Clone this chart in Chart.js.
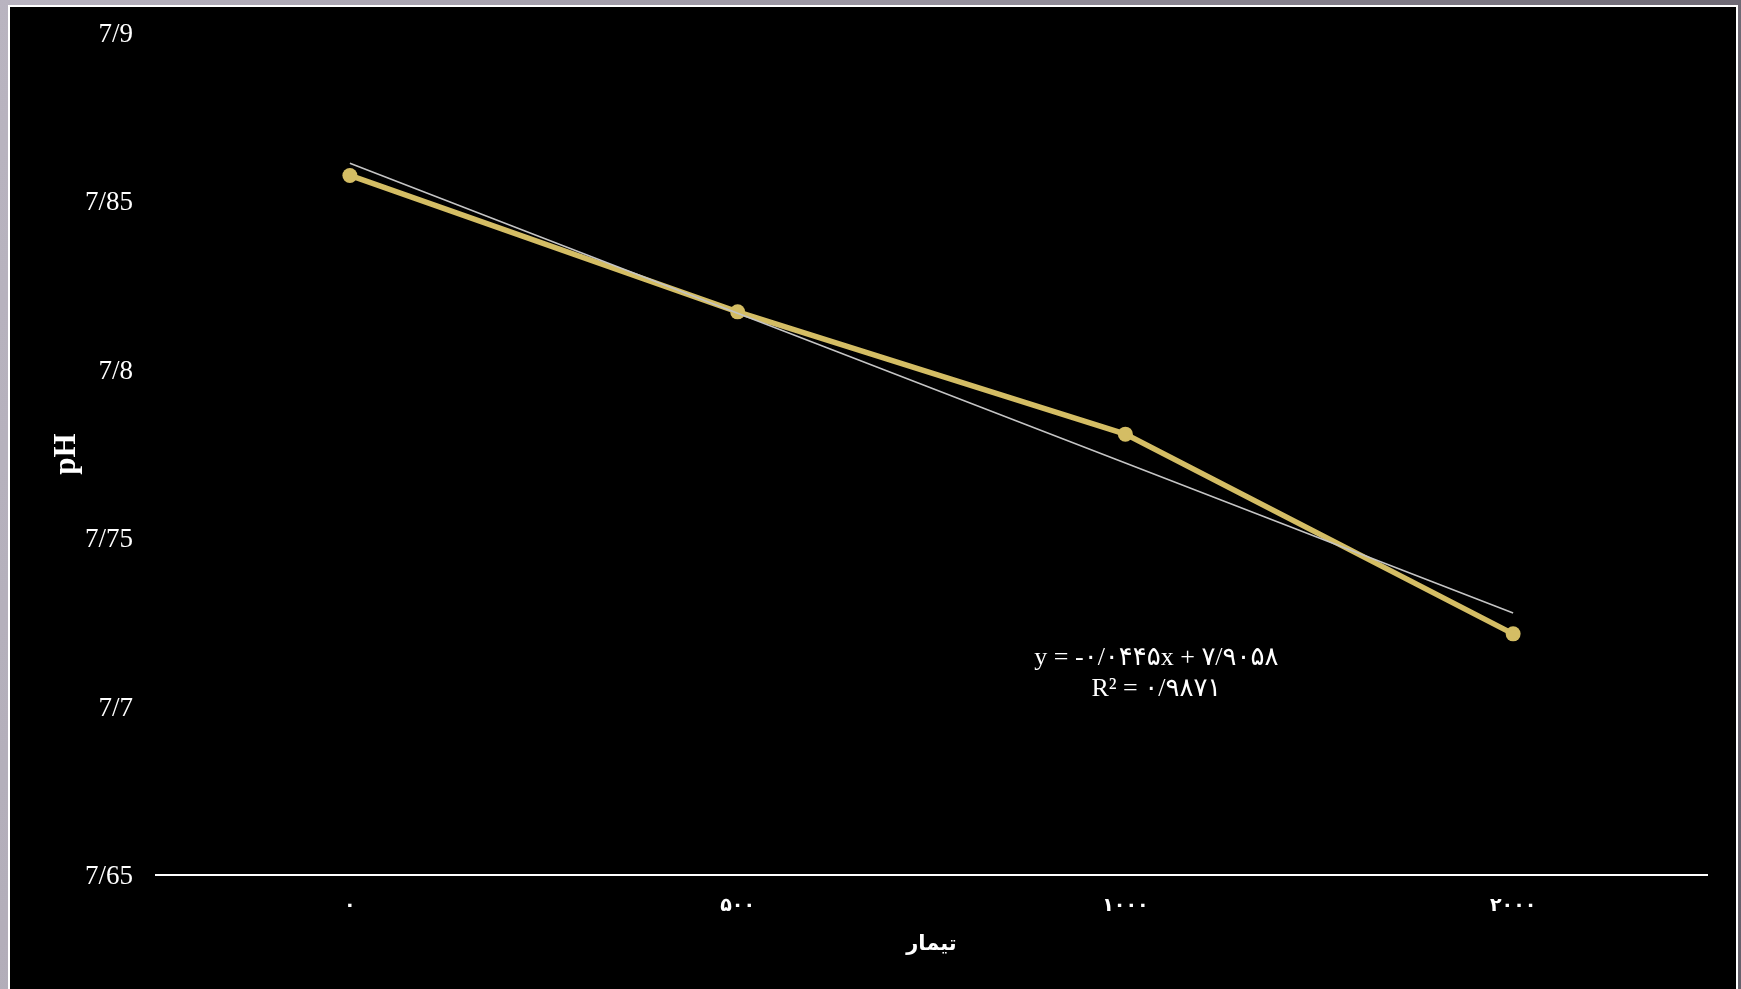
<!DOCTYPE html>
<html lang="fa">
<head>
<meta charset="utf-8">
<title>pH</title>
<script src="https://cdn.jsdelivr.net/npm/chart.js@4.4.1/dist/chart.umd.min.js"></script>
<style>
  html, body { margin: 0; padding: 0; width: 1741px; height: 989px; overflow: hidden; }
  body { background: linear-gradient(100deg, #b9b4c0 0%, #9a95a1 45%, #66616c 100%); position: relative; }
  #frame {
    position: absolute; left: 8px; top: 5px; width: 1726px; height: 1000px;
    background: #000; border: 2px solid #fff; border-bottom: none;
  }
  #chart { position: absolute; left: 0; top: 0; }
</style>
</head>
<body>
<div id="frame"></div>
<canvas id="chart" width="1741" height="989"></canvas>
<script>
// Treatment levels (x categories) and measured pH
const categories = ['۰', '۵۰۰', '۱۰۰۰', '۲۰۰۰'];
const phValues = [7.8577, 7.8172, 7.7809, 7.7216];

// Linear trendline as stated in the equation label
const trendSlope = -0.0445;
const trendIntercept = 7.9058;
const equationLines = ['y = -۰/۰۴۴۵x + ۷/۹۰۵۸', 'R² = ۰/۹۸۷۱'];

// Y axis tick labels (slash used as decimal separator)
const yTickValues = [7.65, 7.7, 7.75, 7.8, 7.85, 7.9];
const yTickLabels = ['7/65', '7/7', '7/75', '7/8', '7/85', '7/9'];

const xTitle = 'تیمار';
const yTitle = 'pH';

const trendValues = categories.map((_, i) => trendSlope * (i + 1) + trendIntercept);

const equationPlugin = {
  id: 'equationLabel',
  afterDatasetsDraw(chart) {
    const { ctx, chartArea } = chart;
    const cx = chartArea.left + (chartArea.right - chartArea.left) * 0.645;
    const y0 = chartArea.top + (chartArea.bottom - chartArea.top) * 0.7425;
    ctx.save();
    ctx.fillStyle = '#ffffff';
    ctx.font = "26px 'Liberation Serif', 'DejaVu Sans', serif";
    ctx.textAlign = 'center';
    ctx.textBaseline = 'middle';
    ctx.direction = 'ltr';
    equationLines.forEach((t, i) => ctx.fillText(t, cx, y0 + i * 31));
    ctx.restore();
  }
};

new Chart(document.getElementById('chart'), {
  type: 'line',
  data: {
    labels: categories,
    datasets: [
      {
        label: 'pH',
        data: phValues,
        borderColor: '#d4bd64',
        backgroundColor: '#d4bd64',
        borderWidth: 5.5,
        pointRadius: 7.5,
        pointBorderWidth: 0,
        pointBackgroundColor: '#d4bd64',
        tension: 0,
        order: 2
      },
      {
        label: 'trend',
        data: trendValues,
        borderColor: '#c4c4c4',
        borderWidth: 1.6,
        pointRadius: 0,
        tension: 0,
        order: 1
      }
    ]
  },
  options: {
    responsive: false,
    animation: false,
    layout: { padding: { top: 33, right: 34, left: 0, bottom: 0 } },
    plugins: { legend: { display: false }, tooltip: { enabled: false } },
    scales: {
      x: {
        offset: true,
        grid: { display: false, drawTicks: false },
        border: { display: true, color: '#ffffff', width: 2 },
        ticks: {
          color: '#ffffff',
          padding: 20,
          font: { family: "'DejaVu Sans'", size: 19, weight: 'bold' }
        },
        title: {
          display: true,
          text: xTitle,
          color: '#ffffff',
          font: { family: "'DejaVu Sans'", size: 21, weight: 'bold' },
          padding: { top: 0, bottom: 32 }
        },
        afterFit(scale) { scale.height = 989 - 875; }
      },
      y: {
        min: 7.65,
        max: 7.9,
        afterBuildTicks(scale) { scale.ticks = yTickValues.map(v => ({ value: v })); },
        grid: { display: false, drawTicks: false },
        border: { display: false },
        ticks: {
          color: '#ffffff',
          padding: 23,
          labelOffset: 2,
          font: { family: "'Liberation Serif'", size: 27 },
          callback(value, index) { return yTickLabels[index]; }
        },
        title: {
          display: true,
          text: yTitle,
          color: '#ffffff',
          font: { family: "'Liberation Serif'", size: 31, weight: 'bold' },
          padding: { top: 48, bottom: 0 }
        },
        afterFit(scale) {
          scale.width = 156;
          scale.paddingTop = 0;
          scale.paddingBottom = 0;
        }
      }
    }
  },
  plugins: [equationPlugin]
});
</script>
</body>
</html>
